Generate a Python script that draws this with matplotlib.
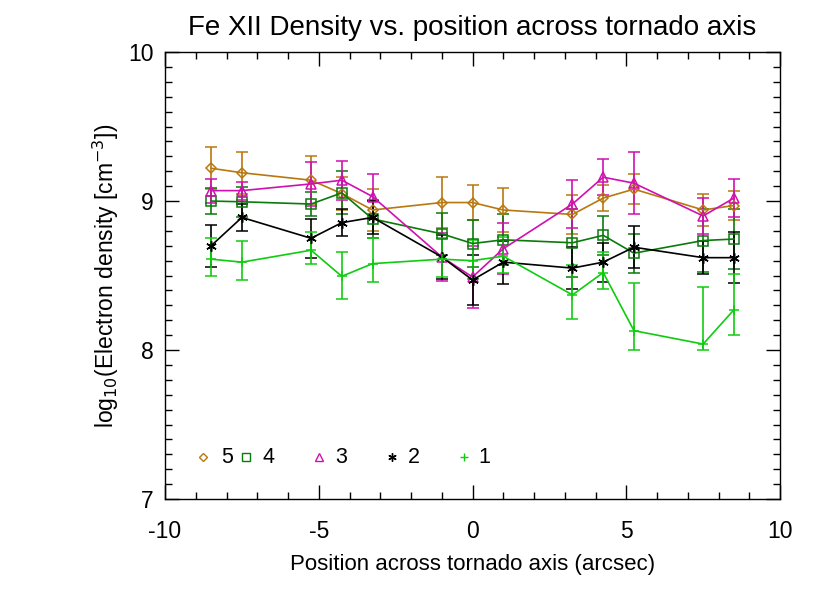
import matplotlib
matplotlib.use('Agg')
import matplotlib.pyplot as plt
from matplotlib.ticker import MultipleLocator

plt.rcParams['font.family'] = ['Liberation Sans', 'DejaVu Sans']
plt.rcParams['axes.unicode_minus'] = False

# positions across the axis (arcsec)
positions = [-8.5, -7.5, -5.25, -4.25, -3.25, -1.0, 0.0, 1.0, 3.25, 4.25, 5.25, 7.5, 8.5]

# log10 densities for each of the five slits
dens5 = [9.22, 9.19, 9.14, 9.05, 8.94, 8.99, 8.99, 8.94, 8.91, 9.02, 9.08, 8.94, 8.97]
err5 = [0.14, 0.14, 0.16, 0.11, 0.14, 0.17, 0.12, 0.15, 0.13, 0.09, 0.10, 0.11, 0.10]

dens4 = [9.00, 8.995, 8.98, 9.055, 8.88, 8.78, 8.715, 8.74, 8.72, 8.77, 8.65, 8.735, 8.745]
err4 = [0.09, 0.10, 0.08, 0.145, 0.13, 0.14, 0.16, 0.17, 0.23, 0.13, 0.13, 0.21, 0.20]

dens3 = [9.07, 9.07, 9.115, 9.14, 9.03, 8.625, 8.49, 8.68, 8.98, 9.16, 9.12, 8.90, 9.02]
err3 = [0.08, 0.06, 0.15, 0.13, 0.15, 0.16, 0.21, 0.17, 0.16, 0.12, 0.21, 0.12, 0.13]

dens2 = [8.70, 8.89, 8.75, 8.855, 8.89, 8.625, 8.47, 8.59, 8.55, 8.59, 8.69, 8.62, 8.62]
err2 = [0.14, 0.09, 0.13, 0.09, 0.11, 0.15, 0.17, 0.145, 0.14, 0.13, 0.14, 0.11, 0.17]

dens1 = [8.61, 8.59, 8.67, 8.495, 8.58, 8.61, 8.60, 8.63, 8.37, 8.52, 8.13, 8.04, 8.27]
err1_lo = [0.11, 0.12, 0.09, 0.15, 0.12, 0.12, 0.12, 0.11, 0.16, 0.11, 0.13, 0.04, 0.17]
err1_hi = [0.14, 0.14, 0.12, 0.16, 0.17, 0.14, 0.14, 0.13, 0.20, 0.14, 0.32, 0.38, 0.24]

labels = ['5', '4', '3', '2', '1']
colors = ['#b8780f', '#0a7a0a', '#d010b0', 'black', '#10cc10']
markers = ['D', 's', '^', (6, 2, 0), '+']
msizes = [5, 7, 7, 7.5, 7]

fig = plt.figure(figsize=(8.3, 6.04), dpi=100)
ax = fig.add_axes([0.1988, 0.1738, 0.741, 0.740])

series = [
    (dens5, [err5, err5]),
    (dens4, [err4, err4]),
    (dens3, [err3, err3]),
    (dens2, [err2, err2]),
    (dens1, [err1_lo, err1_hi]),
]

# draw back to front like the original (slit 5 first)
for i, (dens, err) in enumerate(series):
    ax.errorbar(positions, dens, yerr=err, color=colors[i], marker=markers[i],
                markersize=msizes[i], markerfacecolor='none', markeredgewidth=1.1,
                linewidth=1.2, elinewidth=1.2, capsize=4, capthick=1.2)

# legend drawn inline, IDL style
leg_y = 0.094
sym_x = [0.062, 0.132, 0.250, 0.369, 0.486]
txt_x = [0.091, 0.158, 0.276, 0.395, 0.509]
for i in range(5):
    ax.plot(sym_x[i], leg_y, transform=ax.transAxes, linestyle='none',
            marker=markers[i], markersize=msizes[i] * 0.8, markerfacecolor='none',
            markeredgecolor=colors[i], markeredgewidth=1.0, clip_on=False)
    ax.text(txt_x[i], leg_y, labels[i], transform=ax.transAxes,
            ha='left', va='center', fontsize=15.5)

ax.set_xlim(-10, 10)
ax.set_ylim(7, 10)
ax.xaxis.set_major_locator(MultipleLocator(5))
ax.xaxis.set_minor_locator(MultipleLocator(1))
ax.yaxis.set_major_locator(MultipleLocator(1))
ax.yaxis.set_minor_locator(MultipleLocator(0.1))
ax.tick_params(which='both', direction='in', top=True, right=True,
               labelsize=16.5, width=1.0)
ax.tick_params(axis='x', pad=15)
ax.tick_params(axis='y', pad=8)
ax.tick_params(which='major', length=10)
ax.tick_params(which='minor', length=5)
for sp in ax.spines.values():
    sp.set_linewidth(1.0)

ax.set_title('Fe XII Density vs. position across tornado axis', fontsize=20, pad=12)
ax.set_xlabel('Position across tornado axis (arcsec)', fontsize=16, labelpad=8)
ax.set_ylabel('log$_{10}$(Electron density [cm$^{-3}$])', fontsize=16.5, labelpad=5)

fig.savefig('out.png', dpi=100)
